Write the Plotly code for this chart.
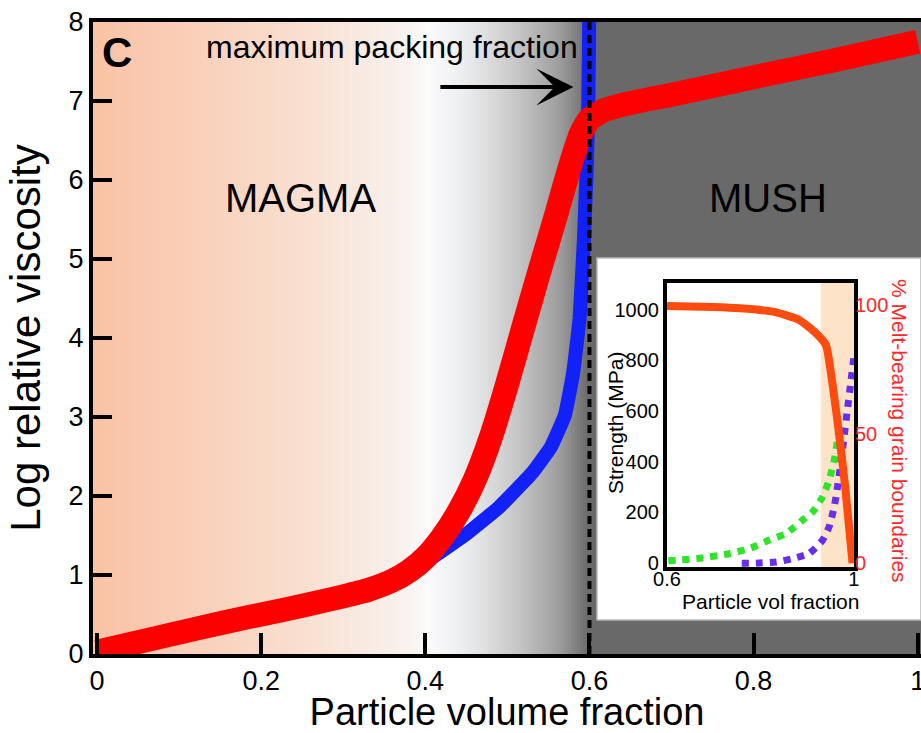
import plotly.graph_objects as go

# ---------------- Main panel data ----------------
red_x = [0, 0.05, 0.1, 0.15, 0.2, 0.25, 0.3, 0.33, 0.36, 0.38, 0.4, 0.42, 0.44, 0.46, 0.48,
         0.5, 0.52, 0.54, 0.56, 0.57, 0.58, 0.59, 0.6, 0.615, 0.64, 0.7, 0.8, 0.9, 1.0]
red_y = [0.03, 0.15, 0.27, 0.39, 0.5, 0.61, 0.73, 0.81, 0.93, 1.05, 1.22, 1.47, 1.79, 2.2, 2.75,
         3.43, 4.16, 4.88, 5.58, 5.95, 6.3, 6.6, 6.77, 6.87, 6.95, 7.08, 7.3, 7.52, 7.75]

blue_x = [0, 0.1, 0.2, 0.3, 0.35, 0.4, 0.45, 0.49, 0.53, 0.553, 0.57, 0.58, 0.588,
          0.593, 0.5965, 0.5985, 0.5993, 0.5998]
blue_y = [0.0, 0.25, 0.48, 0.72, 0.88, 1.16, 1.52, 1.86, 2.29, 2.62, 3.02, 3.55, 4.25,
          5.2, 6.1, 6.9, 7.6, 8.3]

max_packing_fraction = 0.6
main_y_span = [0, 8]

x_tick_vals = [0, 0.2, 0.4, 0.6, 0.8, 1.0]
x_tick_text = ["0", "0.2", "0.4", "0.6", "0.8", "1"]
y_tick_vals = [0, 1, 2, 3, 4, 5, 6, 7, 8]

# ---------------- Inset data ----------------
melt_x = [0.6, 0.7, 0.756, 0.827, 0.883, 0.919, 0.94, 0.954, 0.968, 0.982, 0.997]
melt_y = [99.6, 99.2, 98.7, 97.4, 94.2, 89.0, 84.5, 69.6, 50.3, 28.3, 0]

green_x = [0.603, 0.621, 0.664, 0.735, 0.777, 0.819, 0.855, 0.89, 0.912, 0.933, 0.947,
           0.958, 0.965, 0.969]
green_y = [10, 12, 18, 38, 58, 91, 117, 170, 203, 262, 328, 407, 486, 552]

purple_x = [0.76, 0.791, 0.834, 0.869, 0.904, 0.933, 0.947, 0.958, 0.965, 0.972, 0.979,
            0.986, 0.993, 1.0]
purple_y = [0, 0, 5, 18, 38, 91, 144, 223, 302, 394, 499, 605, 710, 815]

inset_x_tickvals = [0.6, 1.0]
inset_x_ticktext = ["0.6", "1"]
strength_tickvals = [0, 200, 400, 600, 800, 1000]
melt_tickvals = [0, 50, 100]
stiff_zone = [0.929, 1.0]

FONT = "Liberation Sans, Arial, Helvetica, sans-serif"

fig = go.Figure()

# main curves
fig.add_trace(go.Scatter(x=blue_x, y=blue_y, mode="lines",
                         line=dict(color="rgb(18,32,250)", width=14, shape="spline", smoothing=0.3),
                         showlegend=False, hoverinfo="skip"))
fig.add_trace(go.Scatter(x=red_x, y=red_y, mode="lines",
                         line=dict(color="rgb(255,0,0)", width=24, shape="spline", smoothing=0.5),
                         showlegend=False, hoverinfo="skip"))
fig.add_trace(go.Scatter(x=[max_packing_fraction, max_packing_fraction], y=main_y_span, mode="lines",
                         line=dict(color="black", width=4, dash="8px,5px"),
                         showlegend=False, hoverinfo="skip"))

# inset curves
fig.add_trace(go.Scatter(x=green_x, y=green_y, mode="lines", xaxis="x2", yaxis="y2",
                         line=dict(color="rgb(45,228,40)", width=7, dash="dot", shape="spline", smoothing=0.5),
                         showlegend=False, hoverinfo="skip"))
fig.add_trace(go.Scatter(x=purple_x, y=purple_y, mode="lines", xaxis="x2", yaxis="y2",
                         line=dict(color="rgb(105,45,240)", width=7, dash="dot", shape="spline", smoothing=0.5),
                         showlegend=False, hoverinfo="skip"))
fig.add_trace(go.Scatter(x=melt_x, y=melt_y, mode="lines", xaxis="x2", yaxis="y3",
                         line=dict(color="rgb(255,75,15)", width=8, shape="spline", smoothing=0.5),
                         showlegend=False, hoverinfo="skip"))

# ---------------- background gradient (style) ----------------
grad_stops = [
    (0.00, (249, 195, 165)),
    (0.12, (249, 208, 186)),
    (0.24, (249, 222, 206)),
    (0.36, (248, 239, 234)),
    (0.405, (250, 250, 250)),
    (0.445, (236, 238, 240)),
    (0.486, (215, 215, 215)),
    (0.526, (188, 188, 188)),
    (0.566, (155, 155, 155)),
    (0.595, (112, 112, 112)),
    (0.60, (105, 105, 105)),
]


def grad_color(x):
    for (xa, ca), (xb, cb) in zip(grad_stops[:-1], grad_stops[1:]):
        if xa <= x <= xb:
            t = (x - xa) / (xb - xa)
            c = [round(a + (b - a) * t) for a, b in zip(ca, cb)]
            return "rgb(%d,%d,%d)" % tuple(c)
    return "rgb(%d,%d,%d)" % grad_stops[-1][1]


shapes = []
n = 160
for i in range(n):
    x0 = 0.6 * i / n
    x1 = 0.6 * (i + 1) / n
    shapes.append(dict(type="rect", xref="x", yref="paper",
                       x0=(-0.02 if i == 0 else x0), x1=x1 + 0.002, y0=0, y1=1,
                       fillcolor=grad_color((x0 + x1) / 2), line=dict(width=0), layer="below"))
# MUSH region
shapes.append(dict(type="rect", xref="x", yref="paper", x0=0.6, x1=1.2, y0=0, y1=1,
                   fillcolor="rgb(105,105,105)", line=dict(width=0), layer="below"))
# inset white panel
shapes.append(dict(type="rect", xref="paper", yref="paper", x0=0.6087, x1=1.0, y0=0.0538, y1=0.6266,
                   fillcolor="white", line=dict(color="rgb(185,185,185)", width=1.5), layer="below"))
# inset shaded zone
shapes.append(dict(type="rect", xref="x2", yref="y2", x0=stiff_zone[0], x1=stiff_zone[1],
                   y0=-15, y1=1105, fillcolor="rgb(253,228,200)", line=dict(width=0), layer="below"))


def label(text, x, y, size, color="black", angle=0):
    return dict(text=text, xref="paper", yref="paper", x=x, y=y, xanchor="center",
                yanchor="middle", showarrow=False, textangle=angle,
                font=dict(size=size, color=color, family=FONT))


annotations = [
    label("<b>C</b>", 0.029, 0.951, 42),
    label("MAGMA", 0.2512, 0.7215, 40),
    label("MUSH", 0.8152, 0.7215, 40),
    label("maximum packing fraction", 0.3611, 0.9604, 32),
    dict(text="", x=0.5805, y=7.177, ax=0.4165, ay=7.177, xref="x", yref="y", axref="x", ayref="y",
         showarrow=True, arrowhead=3, arrowsize=1.55, arrowwidth=4, arrowcolor="black"),
    label("Strength (MPa)", 0.6304, 0.3655, 21, angle=-90),
    label("% Melt-bearing grain boundaries", 0.9746, 0.3528, 21, color="rgb(255,40,40)", angle=90),
    label("Particle vol fraction", 0.8188, 0.0835, 21),
]

fig.update_layout(
    width=921, height=733,
    margin=dict(l=93, r=0, t=22, b=79, pad=0, autoexpand=False),
    paper_bgcolor="white",
    plot_bgcolor="rgba(0,0,0,0)",
    font=dict(family=FONT, color="black"),
    shapes=shapes,
    annotations=annotations,
    showlegend=False,
    xaxis=dict(range=[-0.005, 1.004], tickvals=x_tick_vals, ticktext=x_tick_text,
               ticks="inside", ticklen=21, tickwidth=4, tickcolor="black",
               showline=True, linewidth=4, linecolor="black", mirror=True,
               showgrid=False, zeroline=False, tickfont=dict(size=27),
               ticklabeloverflow="allow",
               title=dict(text="Particle volume fraction", font=dict(size=38), standoff=4)),
    yaxis=dict(range=[0, 8], tickvals=y_tick_vals,
               ticks="inside", ticklen=19, tickwidth=4, tickcolor="black",
               showline=True, linewidth=4, linecolor="black",
               showgrid=False, zeroline=False, tickfont=dict(size=27),
               title=dict(text="Log relative viscosity", font=dict(size=42), standoff=16)),
    xaxis2=dict(domain=[0.6932, 0.919], anchor="y2", range=[0.6, 1.0],
                tickvals=inset_x_tickvals, ticktext=inset_x_ticktext, ticks="",
                showline=True, linewidth=4, linecolor="black", mirror=True,
                showgrid=False, zeroline=False, tickfont=dict(size=20),
                ticklabelstandoff=-9),
    yaxis2=dict(domain=[0.1377, 0.587], anchor="x2", range=[-15, 1105],
                tickvals=strength_tickvals, ticks="",
                showline=True, linewidth=4, linecolor="black", mirror=True,
                showgrid=False, zeroline=False, tickfont=dict(size=20)),
    yaxis3=dict(overlaying="y2", anchor="x2", side="right", range=[-1.5, 108.5],
                tickvals=melt_tickvals, ticks="", showline=False,
                showgrid=False, zeroline=False,
                tickfont=dict(size=20, color="rgb(255,40,40)")),
)

fig.write_html("out.html", config={"displayModeBar": False},
               post_script="document.body.style.margin='0';document.body.style.overflow='hidden';")
